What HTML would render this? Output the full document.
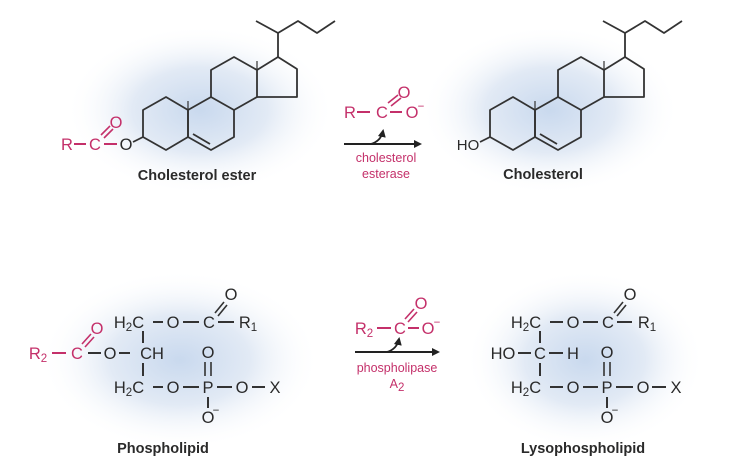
<!DOCTYPE html>
<html><head><meta charset="utf-8"><style>
html,body{margin:0;padding:0;background:#fff;}
svg{display:block;}
text{font-family:"Liberation Sans",Arial,sans-serif;}
.a{font-size:16.5px;fill:#2a2a2a;text-anchor:middle;}
.r{font-size:16.5px;fill:#c4306a;text-anchor:middle;}
.s{font-size:11.5px;}
.lab{font-size:14.5px;font-weight:bold;fill:#2a2a2a;text-anchor:middle;}
.en{font-size:12.5px;fill:#c4306a;text-anchor:middle;}
</style></head><body>
<svg width="747" height="465" viewBox="0 0 747 465" xmlns="http://www.w3.org/2000/svg">
<defs>
<radialGradient id="g" cx="50%" cy="50%" r="50%">
<stop offset="0%" stop-color="#c9d9ee"/><stop offset="50%" stop-color="#e2eaf5"/><stop offset="100%" stop-color="#fff" stop-opacity="0"/>
</radialGradient>
<marker id="ah" markerWidth="8" markerHeight="8" refX="6" refY="4" orient="auto" markerUnits="userSpaceOnUse"><path d="M0,0 L8,4 L0,8 Z" fill="#222"/></marker>
</defs>
<ellipse cx="200" cy="110" rx="135" ry="85" fill="url(#g)"/>
<ellipse cx="550" cy="110" rx="130" ry="85" fill="url(#g)"/>
<ellipse cx="180" cy="360" rx="140" ry="90" fill="url(#g)"/>
<ellipse cx="585" cy="360" rx="120" ry="90" fill="url(#g)"/>

<g id="ster" fill="none" stroke="#333" stroke-width="1.8" stroke-linejoin="round">
<polygon points="143,110 166,97 188,110 188,137 166,150 143,137"/>
<polygon points="188,110 211,97 234,110 234,137 211,150 188,137"/>
<line x1="193" y1="134" x2="210" y2="144"/>
<polyline points="211,97 211,70 234,57 257,70 257,97 234,110"/>
<polyline points="257,70 278,57 297,69 297,97 257,97"/>
<line x1="188" y1="110" x2="188" y2="101" stroke-width="1.2"/>
<line x1="257" y1="70" x2="257" y2="61" stroke-width="1.2"/>
<polyline points="278,57 278,33 256,21"/>
<polyline points="278,33 298,21 317,33 335,21"/>
</g>
<line x1="143" y1="137" x2="133" y2="142" stroke="#333" stroke-width="1.8"/>
<text class="a" x="126" y="150">O</text>
<text class="r" x="67" y="150">R</text>
<line x1="74" y1="144" x2="86" y2="144" stroke="#c4306a" stroke-width="2"/>
<text class="r" x="95" y="150">C</text>
<line x1="104" y1="144" x2="117" y2="144" stroke="#c4306a" stroke-width="2"/>
<line x1="101" y1="135" x2="110" y2="126" stroke="#c4306a" stroke-width="1.6"/>
<line x1="104" y1="138" x2="113" y2="129" stroke="#c4306a" stroke-width="1.6"/>
<text class="r" x="116" y="128">O</text>
<text class="lab" x="197" y="180">Cholesterol ester</text>

<use href="#ster" x="347"/>
<line x1="490" y1="137" x2="480" y2="142" stroke="#333" stroke-width="1.8"/>
<text class="a" x="468" y="150" style="font-size:15px">HO</text>
<text class="lab" x="543" y="179">Cholesterol</text>

<!-- middle top -->
<text class="r" x="350" y="118">R</text>
<line x1="357" y1="112" x2="370" y2="112" stroke="#c4306a" stroke-width="2"/>
<text class="r" x="382" y="118">C</text>
<line x1="390" y1="112" x2="402" y2="112" stroke="#c4306a" stroke-width="2"/>
<text class="r" x="412" y="118">O</text><text class="r s" x="421" y="110">−</text>
<line x1="388" y1="103" x2="398" y2="95" stroke="#c4306a" stroke-width="1.6"/>
<line x1="391" y1="106" x2="401" y2="98" stroke="#c4306a" stroke-width="1.6"/>
<text class="r" x="404" y="98">O</text>
<line x1="344" y1="144" x2="420" y2="144" stroke="#222" stroke-width="2" marker-end="url(#ah)"/>
<path d="M371,144 Q381,141 383,131" fill="none" stroke="#222" stroke-width="1.8" marker-end="url(#ah)"/>
<text class="en" x="386" y="162">cholesterol</text>
<text class="en" x="386" y="178">esterase</text>

<!-- phospholipid -->
<g stroke="#333" stroke-width="2">
<line x1="153" y1="322" x2="163" y2="322"/><line x1="183" y1="322" x2="199" y2="322"/><line x1="218" y1="322" x2="234" y2="322"/>
<line x1="143" y1="331" x2="143" y2="343"/><line x1="143" y1="363" x2="143" y2="376"/>
<line x1="119" y1="353" x2="130" y2="353"/>
<line x1="153" y1="387" x2="163" y2="387"/><line x1="183" y1="387" x2="199" y2="387"/><line x1="217" y1="387" x2="232" y2="387"/><line x1="252" y1="387" x2="265" y2="387"/>
<line x1="205" y1="362" x2="205" y2="376" stroke-width="1.6"/><line x1="211" y1="362" x2="211" y2="376" stroke-width="1.6"/>
<line x1="208" y1="397" x2="208" y2="408"/>
<line x1="215" y1="313" x2="224" y2="302" stroke-width="1.6"/><line x1="218" y1="316" x2="227" y2="305" stroke-width="1.6"/>
</g>
<text class="a" x="129" y="328">H<tspan class="s" dy="3">2</tspan><tspan dy="-3">C</tspan></text>
<text class="a" x="173" y="328">O</text><text class="a" x="209" y="328">C</text>
<text class="a" x="248" y="328">R<tspan class="s" dy="3">1</tspan></text>
<text class="a" x="231" y="300">O</text>
<text class="r" x="38" y="359">R<tspan class="s" dy="3">2</tspan></text>
<line x1="52" y1="353" x2="66" y2="353" stroke="#c4306a" stroke-width="2"/>
<text class="r" x="77" y="359">C</text>
<line x1="82" y1="344" x2="91" y2="334" stroke="#c4306a" stroke-width="1.6"/><line x1="85" y1="347" x2="94" y2="337" stroke="#c4306a" stroke-width="1.6"/>
<text class="r" x="97" y="334">O</text>
<line x1="88" y1="353" x2="101" y2="353" stroke="#333" stroke-width="2"/>
<text class="a" x="110" y="359">O</text>
<text class="a" x="152" y="359">CH</text>
<text class="a" x="129" y="393">H<tspan class="s" dy="3">2</tspan><tspan dy="-3">C</tspan></text>
<text class="a" x="173" y="393">O</text><text class="a" x="208" y="393">P</text>
<text class="a" x="242" y="393">O</text><text class="a" x="275" y="393">X</text>
<text class="a" x="208" y="358">O</text>
<text class="a" x="208" y="423">O</text><text class="a s" x="216" y="414">−</text>
<text class="lab" x="163" y="453">Phospholipid</text>

<!-- middle bottom -->
<text class="r" x="364" y="334">R<tspan class="s" dy="3">2</tspan></text>
<line x1="377" y1="328" x2="391" y2="328" stroke="#c4306a" stroke-width="2"/>
<text class="r" x="400" y="334">C</text>
<line x1="408" y1="328" x2="419" y2="328" stroke="#c4306a" stroke-width="2"/>
<text class="r" x="428" y="334">O</text><text class="r s" x="437" y="326">−</text>
<line x1="405" y1="319" x2="414" y2="309" stroke="#c4306a" stroke-width="1.6"/><line x1="408" y1="322" x2="417" y2="312" stroke="#c4306a" stroke-width="1.6"/>
<text class="r" x="421" y="309">O</text>
<line x1="355" y1="352" x2="438" y2="352" stroke="#222" stroke-width="2" marker-end="url(#ah)"/>
<path d="M387,352 Q397,349 399,339" fill="none" stroke="#222" stroke-width="1.8" marker-end="url(#ah)"/>
<text class="en" x="397" y="372">phospholipase</text>
<text class="en" x="397" y="388">A<tspan class="s" dy="3">2</tspan></text>

<!-- lysophospholipid -->
<g stroke="#333" stroke-width="2">
<line x1="550" y1="322" x2="563" y2="322"/><line x1="583" y1="322" x2="598" y2="322"/><line x1="617" y1="322" x2="632" y2="322"/>
<line x1="540" y1="331" x2="540" y2="343"/><line x1="540" y1="363" x2="540" y2="376"/>
<line x1="518" y1="353" x2="531" y2="353"/><line x1="549" y1="353" x2="563" y2="353"/>
<line x1="550" y1="387" x2="563" y2="387"/><line x1="583" y1="387" x2="598" y2="387"/><line x1="616" y1="387" x2="633" y2="387"/><line x1="652" y1="387" x2="666" y2="387"/>
<line x1="604" y1="362" x2="604" y2="376" stroke-width="1.6"/><line x1="610" y1="362" x2="610" y2="376" stroke-width="1.6"/>
<line x1="607" y1="397" x2="607" y2="408"/>
<line x1="614" y1="313" x2="623" y2="302" stroke-width="1.6"/><line x1="617" y1="316" x2="626" y2="305" stroke-width="1.6"/>
</g>
<text class="a" x="526" y="328">H<tspan class="s" dy="3">2</tspan><tspan dy="-3">C</tspan></text>
<text class="a" x="573" y="328">O</text><text class="a" x="608" y="328">C</text>
<text class="a" x="647" y="328">R<tspan class="s" dy="3">1</tspan></text>
<text class="a" x="630" y="300">O</text>
<text class="a" x="503" y="359">HO</text>
<text class="a" x="540" y="359">C</text><text class="a" x="573" y="359">H</text>
<text class="a" x="526" y="393">H<tspan class="s" dy="3">2</tspan><tspan dy="-3">C</tspan></text>
<text class="a" x="573" y="393">O</text><text class="a" x="607" y="393">P</text>
<text class="a" x="643" y="393">O</text><text class="a" x="676" y="393">X</text>
<text class="a" x="607" y="358">O</text>
<text class="a" x="607" y="423">O</text><text class="a s" x="615" y="414">−</text>
<text class="lab" x="583" y="453">Lysophospholipid</text>
</svg>
</body></html>
